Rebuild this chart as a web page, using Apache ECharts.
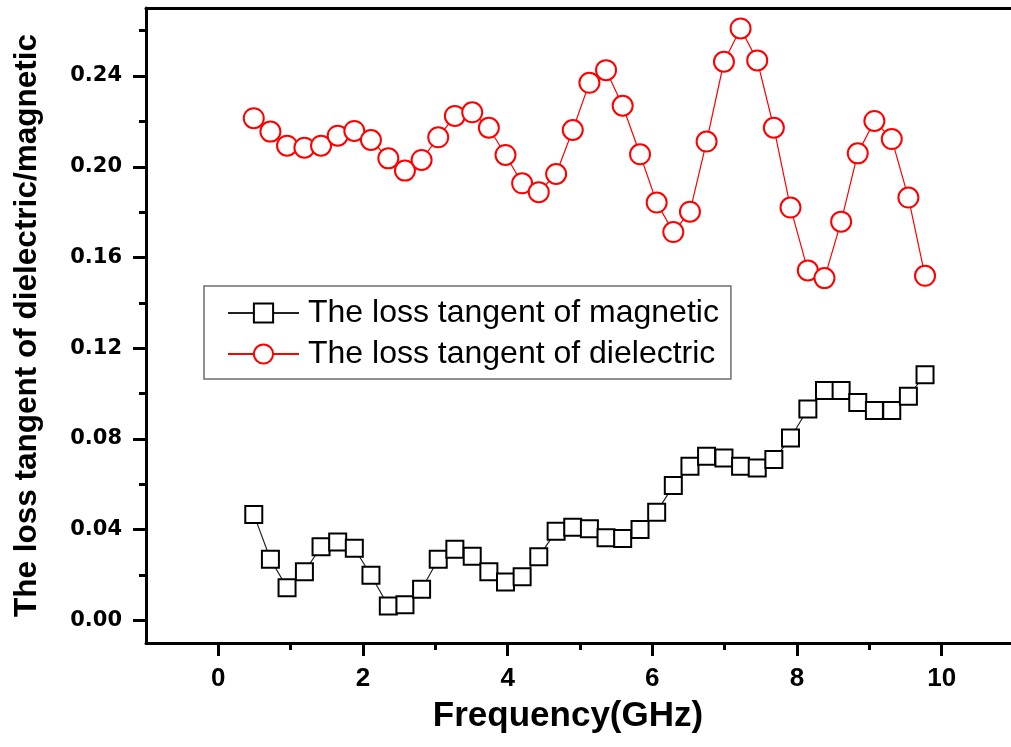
<!DOCTYPE html>
<html>
<head>
<meta charset="utf-8">
<script src="https://cdn.jsdelivr.net/npm/echarts@6/dist/echarts.min.js"></script>
<style>
  html, body { margin: 0; padding: 0; background: #fff; overflow: hidden; }
  #chart { width: 1011px; height: 747px; }
</style>
</head>
<body>
<div id="chart"></div>
<script>
// Frequency sweep (GHz)
const frequency = [0.49, 0.72, 0.95, 1.19, 1.42, 1.65, 1.88, 2.11, 2.35, 2.58,
  2.81, 3.04, 3.27, 3.51, 3.74, 3.97, 4.20, 4.43, 4.67, 4.90,
  5.13, 5.36, 5.59, 5.83, 6.06, 6.29, 6.52, 6.75, 6.99, 7.22,
  7.45, 7.68, 7.91, 8.15, 8.38, 8.61, 8.84, 9.07, 9.31, 9.54, 9.77];

// Magnetic loss tangent
const magnetic = [0.0467, 0.0269, 0.0144, 0.0214, 0.0324, 0.0345, 0.0318, 0.0199, 0.0063, 0.0069,
  0.0137, 0.0269, 0.0313, 0.0283, 0.0214, 0.0169, 0.0192, 0.0280, 0.0393, 0.0410,
  0.0404, 0.0364, 0.0361, 0.0401, 0.0477, 0.0594, 0.0679, 0.0723, 0.0716, 0.0679,
  0.0672, 0.0709, 0.0804, 0.0932, 0.1013, 0.1013, 0.0961, 0.0925, 0.0925, 0.0988, 0.1083];

// Dielectric loss tangent
const dielectric = [0.2214, 0.2155, 0.2093, 0.2084, 0.2093, 0.2137, 0.2158, 0.2118, 0.2037, 0.1983,
  0.2030, 0.2130, 0.2224, 0.2240, 0.2172, 0.2052, 0.1927, 0.1888, 0.1968, 0.2162,
  0.2370, 0.2426, 0.2269, 0.2055, 0.1842, 0.1712, 0.1802, 0.2111, 0.2463, 0.2610,
  0.2469, 0.2172, 0.1820, 0.1543, 0.1509, 0.1758, 0.2059, 0.2202, 0.2122, 0.1864, 0.1519];

// Axis ticks
const xMajorTicks = [0, 2, 4, 6, 8, 10];
const xMinorTicks = [1, 3, 5, 7, 9];
const yMajorTicks = [0, 0.04, 0.08, 0.12, 0.16, 0.20, 0.24];
const yMinorTicks = [0.02, 0.06, 0.10, 0.14, 0.18, 0.22, 0.26];

const seriesNames = ['The loss tangent of magnetic', 'The loss tangent of dielectric'];

const pairs = (xs, ys) => xs.map((x, i) => [x, ys[i]]);

const chart = echarts.init(document.getElementById('chart'), null, { renderer: 'canvas' });

const axisFont = 'Liberation Sans, Arial, sans-serif';
const X_RANGE = { min: -1, max: 11 };
const Y_RANGE = { min: -0.01, max: 0.27 };

// an extra axis that only draws a set of ticks
function tickAxis(range, pos, values, len) {
  return {
    type: 'value', min: range.min, max: range.max, position: pos,
    axisLine: { show: false, onZero: false },
    axisTick: { show: true, length: len, customValues: values, lineStyle: { color: '#000', width: 3 } },
    axisLabel: { show: false },
    splitLine: { show: false }
  };
}

chart.setOption({
  backgroundColor: '#ffffff',
  animation: false,
  grid: {
    left: 146, top: 8, width: 868, height: 635,
    outerBoundsMode: 'none',
    containLabel: false,
    show: false
  },
  legend: {
    orient: 'vertical',
    left: 204, top: 286,
    padding: [11, 12, 9, 23],
    itemGap: 9,
    itemWidth: 71,
    itemHeight: 24,
    backgroundColor: '#fff',
    borderColor: '#6e6e6e',
    borderWidth: 1.5,
    borderRadius: 0,
    textStyle: {
      fontFamily: axisFont, fontSize: 32, color: '#000',
      lineHeight: 31, padding: [0, 0, 0, 4]
    },
    data: seriesNames
  },
  xAxis: [{
    type: 'value',
    min: X_RANGE.min, max: X_RANGE.max,
    position: 'bottom',
    name: 'Frequency(GHz)',
    nameLocation: 'middle',
    nameGap: 56,
    nameTextStyle: {
      fontFamily: axisFont, fontWeight: 'bold', fontSize: 35, color: '#000',
      padding: [0, 24, 0, 0]
    },
    axisLine: { show: true, onZero: false, lineStyle: { color: '#000', width: 3 } },
    axisTick: { show: false },
    axisLabel: {
      customValues: xMajorTicks, margin: 23,
      fontFamily: axisFont, fontWeight: 'bold', fontSize: 26, color: '#000'
    },
    splitLine: { show: false }
  },
  tickAxis(X_RANGE, 'bottom', xMajorTicks, 13),
  tickAxis(X_RANGE, 'bottom', xMinorTicks, 7),
  {
    // top frame line
    type: 'value', min: X_RANGE.min, max: X_RANGE.max, position: 'top',
    axisLine: { show: true, onZero: false, lineStyle: { color: '#000', width: 3 } },
    axisTick: { show: false },
    axisLabel: { show: false },
    splitLine: { show: false }
  }],
  yAxis: [{
    type: 'value',
    min: Y_RANGE.min, max: Y_RANGE.max,
    position: 'left',
    name: 'The loss tangent of dielectric/magnetic',
    nameLocation: 'middle',
    nameGap: 103,
    nameTextStyle: {
      fontFamily: axisFont, fontWeight: 'bold', fontSize: 31.5, color: '#000'
    },
    axisLine: { show: true, onZero: false, lineStyle: { color: '#000', width: 3 } },
    axisTick: { show: false },
    axisLabel: {
      customValues: yMajorTicks, margin: 24,
      formatter: v => v.toFixed(2),
      fontFamily: 'DejaVu Sans, sans-serif', fontWeight: 'bold', fontSize: 21, color: '#000'
    },
    splitLine: { show: false }
  },
  tickAxis(Y_RANGE, 'left', yMajorTicks, 13),
  tickAxis(Y_RANGE, 'left', yMinorTicks, 7)],
  series: [{
    name: seriesNames[0],
    type: 'line',
    data: pairs(frequency, magnetic),
    symbol: 'emptyRect',
    symbolSize: 17,
    showAllSymbol: true,
    lineStyle: { color: '#222', width: 1.2 },
    itemStyle: { color: '#000', borderColor: '#000', borderWidth: 2.5 },
    z: 3
  }, {
    name: seriesNames[1],
    type: 'line',
    data: pairs(frequency, dielectric),
    symbol: 'emptyCircle',
    symbolSize: 20,
    showAllSymbol: true,
    lineStyle: { color: '#ff0000', width: 1.2 },
    itemStyle: { color: '#ff0000', borderColor: '#ff0000', borderWidth: 2.5 },
    z: 3
  }]
});
</script>
</body>
</html>
